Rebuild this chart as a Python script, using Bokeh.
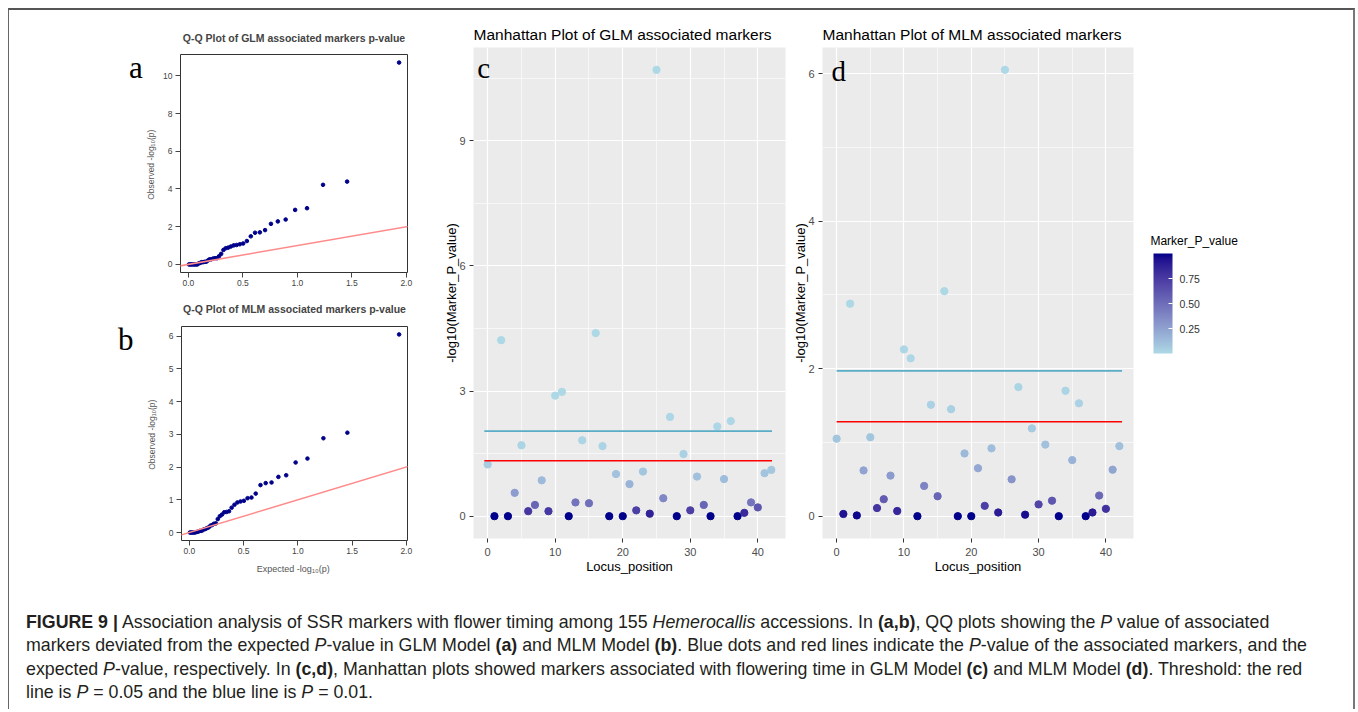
import numpy as np
from bokeh.plotting import figure
from bokeh.layouts import row, column
from bokeh.models import (ColumnDataSource, LinearColorMapper, ColorBar, FixedTicker,
                          PrintfTickFormatter, Label, Div, Range1d, Slope)
from bokeh.transform import linear_cmap
from bokeh.embed import file_html
from bokeh.resources import INLINE

# ---------------- data ----------------
locus_position = list(range(43))
glm_neglog10p = [1.24, 0, 4.22, 0, 0.56, 1.70, 0.12, 0.27, 0.86, 0.12,
                 2.89, 2.98, 0, 0.33, 1.82, 0.31, 4.39, 1.68, 0, 1.01,
                 0, 0.77, 0.14, 1.07, 0.06, 10.7, 0.43, 2.38, 0, 1.49,
                 0.14, 0.95, 0.27, 0, 2.15, 0.89, 2.28, 0, 0.08, 0.33,
                 0.21, 1.03, 1.11]
mlm_neglog10p = [1.05, 0.03, 2.88, 0.01, 0.62, 1.07, 0.11, 0.23, 0.55, 0.07,
                 2.26, 2.14, 0, 0.41, 1.51, 0.27, 3.05, 1.45, 0, 0.85,
                 0, 0.65, 0.14, 0.92, 0.05, 6.05, 0.50, 1.75, 0.02, 1.19,
                 0.16, 0.97, 0.21, 0, 1.70, 0.76, 1.53, 0, 0.05, 0.28,
                 0.10, 0.63, 0.95]
# expected -log10(p) quantiles of the Q-Q plots (largest first)
qq_expected = [1.934, 1.457, 1.236, 1.089, 0.980, 0.893, 0.821, 0.758, 0.704, 0.656,
               0.612, 0.573, 0.537, 0.503, 0.472, 0.443, 0.416, 0.390, 0.366, 0.343,
               0.322, 0.301, 0.281, 0.262, 0.244, 0.227, 0.210, 0.194, 0.179, 0.164,
               0.149, 0.135, 0.122, 0.108, 0.096, 0.083, 0.071, 0.059, 0.048, 0.037,
               0.026, 0.015, 0.005]
# threshold lines: [P = 0.05 (red), P = 0.01 (blue)] in -log10 units
glm_thresholds = [1.33, 2.04]
mlm_thresholds = [1.28, 1.97]
glm_line_x = [-0.5, 42.1]
mlm_line_x = [0.0, 42.4]
qq_x_ticks = [0, 0.5, 1.0, 1.5, 2.0]
qq_glm_y_ticks = [0, 2, 4, 6, 8, 10]
qq_mlm_y_ticks = [0, 1, 2, 3, 4, 5, 6]
glm_y_ticks = [0, 3, 6, 9]
glm_y_minor = [1.5, 4.5, 7.5, 10.5]
mlm_y_ticks = [0, 2, 4, 6]
mlm_y_minor = [1, 3, 5]
locus_ticks = [0, 10, 20, 30, 40]
locus_minor = [5, 15, 25, 35]
colorbar_ticks = [0.25, 0.50, 0.75]

SANS = "Liberation Sans"
SERIF = "Liberation Serif"


# ---------------- colour gradient (Lab interpolation like ggplot) ----------------
def _hex2rgb(h):
    return np.array([int(h[i:i + 2], 16) for i in (1, 3, 5)]) / 255.0


_M = np.array([[0.4124, 0.3576, 0.1805], [0.2126, 0.7152, 0.0722], [0.0193, 0.1192, 0.9505]])
_Mi = np.linalg.inv(_M)
_WP = np.array([0.95047, 1.0, 1.08883])


def _f(t):
    d = 6 / 29
    return np.where(t > d ** 3, np.cbrt(t), t / (3 * d * d) + 4 / 29)


def _finv(t):
    d = 6 / 29
    return np.where(t > d, t ** 3, 3 * d * d * (t - 4 / 29))


def rgb2lab(h):
    c = _hex2rgb(h)
    lin = np.where(c <= 0.04045, c / 12.92, ((c + 0.055) / 1.055) ** 2.4)
    fx, fy, fz = _f(_M @ lin / _WP)
    return np.array([116 * fy - 16, 500 * (fx - fy), 200 * (fy - fz)])


def lab2hex(lab):
    L, a, b = lab
    fy = (L + 16) / 116
    xyz = _finv(np.array([fy + a / 500, fy, fy - b / 200])) * _WP
    lin = np.clip(_Mi @ xyz, 0, 1)
    c = np.where(lin <= 0.0031308, 12.92 * lin, 1.055 * np.power(lin, 1 / 2.4) - 0.055)
    c = np.clip(c, 0, 1)
    return "#%02x%02x%02x" % tuple(int(round(v * 255)) for v in c)


lab_lo, lab_hi = rgb2lab("#ADD8E6"), rgb2lab("#00008B")
palette = [lab2hex(lab_lo + (lab_hi - lab_lo) * t) for t in np.linspace(0, 1, 256)]
mapper = LinearColorMapper(palette=palette, low=0, high=1)


# ---------------- Q-Q plots ----------------
def qq_plot(title, observed, yticks, height, top, bottom, ylabel_standoff, title_standoff, show_xlabel):
    obs = sorted(observed, reverse=True)
    lo, hi = min(obs), max(obs)
    ylo, yhi = lo - 0.04 * (hi - lo), hi + 0.04 * (hi - lo)
    xlo, xhi = min(qq_expected), max(qq_expected)
    xr = Range1d(xlo - 0.04 * (xhi - xlo), xhi + 0.04 * (xhi - xlo))
    p = figure(width=287, height=height, x_range=xr, y_range=Range1d(ylo, yhi),
               min_border_left=36, min_border_right=23, min_border_top=top, min_border_bottom=bottom,
               output_backend="svg", toolbar_location=None, title=title)
    p.title.text_font = SANS
    p.title.text_font_size = "10.5px"
    p.title.text_font_style = "bold"
    p.title.align = "center"
    p.title.standoff = title_standoff
    p.grid.grid_line_color = None
    p.outline_line_color = "#333333"
    p.outline_line_width = 1
    p.background_fill_color = "white"
    for ax in (p.xaxis[0], p.yaxis[0]):
        ax.axis_line_color = None
        ax.major_tick_line_color = "#444444"
        ax.major_tick_out = 5
        ax.major_tick_in = 0
        ax.minor_tick_line_color = None
        ax.major_label_text_font = SANS
        ax.major_label_text_font_size = "8.5px"
        ax.major_label_text_color = "#444444"
        ax.major_label_standoff = 3
        ax.axis_label_text_font = SANS
        ax.axis_label_text_font_size = "8.5px"
        ax.axis_label_text_font_style = "normal"
        ax.axis_label_text_color = "#555555"
    p.xaxis.ticker = FixedTicker(ticks=qq_x_ticks)
    p.xaxis.formatter = PrintfTickFormatter(format="%.1f")
    p.xaxis.major_label_standoff = 2
    p.yaxis.ticker = FixedTicker(ticks=yticks)
    p.yaxis.axis_label = "Observed  -log\u2081\u2080(p)"
    p.yaxis.axis_label_standoff = ylabel_standoff
    if show_xlabel:
        p.xaxis.axis_label = "Expected  -log\u2081\u2080(p)"
        p.xaxis.axis_label_text_font_size = "9px"
        p.xaxis.axis_label_standoff = 7
    p.add_layout(Slope(gradient=1, y_intercept=0, line_color="#FF8A8A", line_width=1.5))
    p.scatter(qq_expected, obs, size=3.6, color="#00008B")
    return p


fa = qq_plot("Q-Q Plot of GLM associated markers p-value", glm_neglog10p, qq_glm_y_ticks,
             279, 44, 17, 4, 21, False)
fb = qq_plot("Q-Q Plot of MLM associated markers p-value", mlm_neglog10p, qq_mlm_y_ticks,
             306, 34, 55, 9, 23, True)


def panel_letter(letter, width, height, pad_left, pad_top):
    html = ('<div style="font-family:\'Liberation Serif\',serif;font-size:31px;line-height:31px;'
            'color:black;padding-left:%dpx;padding-top:%dpx;">%s</div>' % (pad_left, pad_top, letter))
    return Div(text=html, width=width, height=height, margin=0)


div_a = panel_letter("a", 134, 279, 120, 42)
div_b = panel_letter("b", 134, 306, 109, 35)


# ---------------- Manhattan plots ----------------
def manhattan(title, yvals, yticks, yminor, thresholds, line_x, width, left, right):
    xlo, xhi = min(locus_position), max(locus_position)
    ylo, yhi = min(yvals), max(yvals)
    p = figure(width=width, height=585,
               x_range=Range1d(xlo - 0.05 * (xhi - xlo), xhi + 0.05 * (xhi - xlo)),
               y_range=Range1d(ylo - 0.05 * (yhi - ylo), yhi + 0.05 * (yhi - ylo)),
               min_border_left=left, min_border_right=right, min_border_top=37, min_border_bottom=57,
               output_backend="svg", toolbar_location=None, title=title)
    p.title.text_font = SANS
    p.title.text_font_size = "15.5px"
    p.title.text_font_style = "normal"
    p.title.text_color = "black"
    p.title.align = "left"
    p.title.standoff = 10
    p.background_fill_color = "#EBEBEB"
    p.outline_line_color = None
    p.grid.grid_line_color = "white"
    p.grid.grid_line_width = 1.2
    p.grid.minor_grid_line_color = "white"
    p.grid.minor_grid_line_width = 0.6
    for ax in (p.xaxis[0], p.yaxis[0]):
        ax.axis_line_color = None
        ax.major_tick_line_color = "#333333"
        ax.major_tick_out = 4
        ax.major_tick_in = 0
        ax.minor_tick_out = 0
        ax.minor_tick_in = 0
        ax.minor_tick_line_color = None
        ax.major_label_text_font = SANS
        ax.major_label_text_font_size = "11px"
        ax.major_label_text_color = "#4D4D4D"
        ax.major_label_standoff = 4
        ax.axis_label_text_font = SANS
        ax.axis_label_text_font_size = "13px"
        ax.axis_label_text_font_style = "normal"
        ax.axis_label_text_color = "black"
    p.xaxis.ticker = FixedTicker(ticks=locus_ticks, minor_ticks=locus_minor)
    p.yaxis.ticker = FixedTicker(ticks=yticks, minor_ticks=yminor)
    p.xaxis.axis_label = "Locus_position"
    p.xaxis.major_label_standoff = 5
    p.xaxis.axis_label_standoff = 0
    p.yaxis.axis_label = "-log10(Marker_P_value)"
    p.yaxis.axis_label_standoff = -3
    src = ColumnDataSource(dict(x=locus_position, y=yvals, p=[10 ** (-v) for v in yvals]))
    p.scatter("x", "y", source=src, size=7.3,
              color=linear_cmap("p", palette, 0, 1))
    p.segment(x0=[line_x[0]] * 2, x1=[line_x[1]] * 2, y0=thresholds, y1=thresholds,
              line_color=["#FF0000", "#5AADC6"], line_width=1.6)
    return p


fc = manhattan("Manhattan Plot of GLM associated markers", glm_neglog10p, glm_y_ticks, glm_y_minor,
               glm_thresholds, glm_line_x, 360, 43, 5)
fc.add_layout(Label(x=-1.53, y=10.74, text="c", text_font=SERIF, text_font_size="29px",
                    text_color="black", text_baseline="alphabetic"))
fd = manhattan("Manhattan Plot of MLM associated markers", mlm_neglog10p, mlm_y_ticks, mlm_y_minor,
               mlm_thresholds, mlm_line_x, 353, 32, 10)
fd.add_layout(Label(x=-0.78, y=6.03, text="d", text_font=SERIF, text_font_size="29px",
                    text_color="black", text_baseline="alphabetic"))

# ---------------- colour legend ----------------
fl = figure(width=210, height=585, x_range=Range1d(0, 1), y_range=Range1d(0, 1),
            x_axis_type=None, y_axis_type=None, min_border=0, min_border_left=0,
            min_border_right=0, min_border_top=0, min_border_bottom=0,
            output_backend="svg", toolbar_location=None)
fl.outline_line_color = None
cb = ColorBar(color_mapper=mapper, ticker=FixedTicker(ticks=colorbar_ticks),
              formatter=PrintfTickFormatter(format="%.2f"),
              width=19, height=100, location=(10, 185), orientation="vertical",
              major_label_text_font=SANS, major_label_text_font_size="10.5px",
              major_label_text_color="#333333", label_standoff=7,
              major_tick_line_color="white", major_tick_in=4, major_tick_out=0,
              minor_tick_line_color=None, bar_line_color=None, border_line_color=None,
              background_fill_color=None, padding=0, margin=0)
fl.add_layout(cb, "center")
fl.add_layout(Label(x=0.033, y=0.605, text="Marker_P_value", text_font=SANS,
                    text_font_size="12px", text_color="black", text_baseline="alphabetic"))

# ---------------- caption ----------------
caption_html = (
    '<div style="font-family:\'Liberation Sans\',Arial,sans-serif;font-size:17.8px;line-height:23.3px;'
    'color:#231f20;padding:16px 0 0 17px;white-space:nowrap;">'
    '<b>FIGURE 9 |</b> Association analysis of SSR markers with flower timing among 155 '
    '<i>Hemerocallis</i> accessions. In <b>(a,b)</b>, QQ plots showing the <i>P</i> value of associated<br>'
    'markers deviated from the expected <i>P</i>-value in GLM Model <b>(a)</b> and MLM Model <b>(b)</b>. '
    'Blue dots and red lines indicate the <i>P</i>-value of the associated markers, and the<br>'
    'expected <i>P</i>-value, respectively. In <b>(c,d)</b>, Manhattan plots showed markers associated '
    'with flowering time in GLM Model <b>(c)</b> and MLM Model <b>(d)</b>. Threshold: the red<br>'
    'line is <i>P</i> = 0.05 and the blue line is <i>P</i> = 0.01.</div>'
)
caption = Div(text=caption_html, width=1344, height=114, margin=0)

layout = column(
    row(column(row(div_a, fa), row(div_b, fb)), fc, fd, fl),
    caption,
    styles={"margin": "8px 0 0 8px",
            "border-top": "2px solid #555555", "border-left": "1px solid #666666",
            "border-right": "2px solid #777777"},
)

open("out.html", "w").write(file_html(layout, INLINE))
